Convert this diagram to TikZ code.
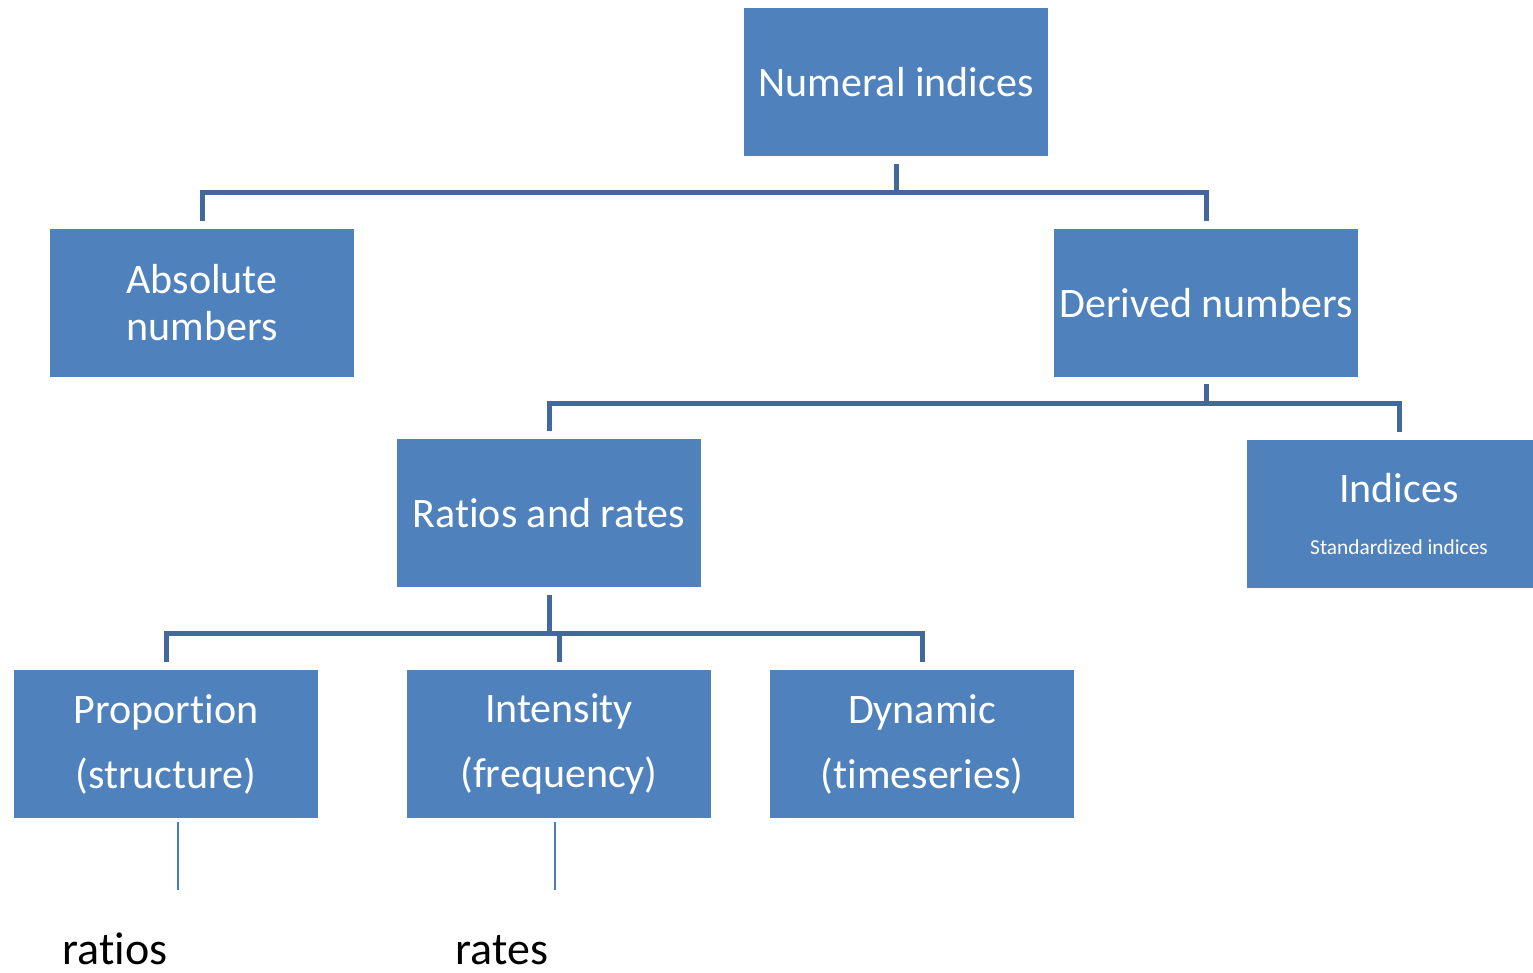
\documentclass[tikz,border=0pt]{standalone}
\usepackage{fontspec}
\setmainfont[Ligatures={NoCommon,NoContextual,NoRare}]{Carlito}
\usetikzlibrary{calc}
\newcommand{\tibrk}{\kern0pt }
\definecolor{boxfill}{HTML}{4F81BD}
\definecolor{connc}{HTML}{41699E}
\definecolor{thinc}{HTML}{4A7EBB}
\begin{document}
\begin{tikzpicture}[x=0.75pt,y=-0.75pt,
  box/.style={rectangle, fill=boxfill, draw=none, minimum width=228pt, minimum height=111pt,
    inner sep=0pt, text=white, align=center, font=\fontsize{31.5}{35.25}\selectfont},
  wide/.style={font=\fontsize{31.5}{48.75}\selectfont},
  conn/.style={draw=connc, line width=3.75pt},
  leader/.style={draw=thinc, line width=1.5pt},
  lab/.style={text=black, inner sep=0pt, font=\fontsize{34.5}{40}\selectfont}]
\useasboundingbox (0,0) rectangle (1533,973);
\clip (0,0) rectangle (1533,973);
% boxes
\node[box] (num) at (896,82) {Numeral indices};
\node[box] (abs) at (202,303) {Absolute\\numbers};
\node[box] (der) at (1206,303) {Derived numbers};
\node[box] (rat) at (549,513) {Rat\tibrk ios and rates};
\node[box] (ind) at (1399,514) {Indices\\[4pt]{\fontsize{16}{19}\selectfont Standardized indices}};
\node[box, wide] (prop) at (166,744) {Proport\tibrk ion\\(structure)};
\node[box, wide] (int) at (559,744) {Intensity\\(frequency)};
\node[box, wide] (dyn) at (922,744) {Dynamic\\(t\tibrk imeseries)};
% labels
\node[lab, anchor=base] (ratios) at (115,964) {rat\tibrk ios};
\node[lab, anchor=base] (rates) at (502,964) {rates};
% connectors
\coordinate (bus1) at (896,193);
\coordinate (bus2) at (1206,403);
\coordinate (bus3) at (549,633);
\draw[conn] ($(num.south)+(0,8)$) -- (num.south |- bus1);
\draw[conn] ($(abs.north)+(0,-8)$) |- (bus1) -| ($(der.north)+(0,-8)$);
\draw[conn] ($(der.south)+(0,7)$) -- (der.south |- bus2);
\draw[conn] ($(rat.north)+(0,-8)$) |- (bus2) -| ($(ind.north)+(0,-8)$);
\draw[conn] ($(rat.south)+(0,8)$) -- (rat.south |- bus3);
\draw[conn] ($(prop.north)+(0,-8)$) |- (bus3) -| ($(dyn.north)+(0,-8)$);
\draw[conn] (int.north |- bus3) -- ($(int.north)+(0,-8)$);
% leaders
\coordinate (t1) at (178,890);
\coordinate (t2) at (555,890);
\draw[leader] ($(prop.south -| t1)+(0,4)$) -- (t1);
\draw[leader] ($(int.south -| t2)+(0,4)$) -- (t2);
\end{tikzpicture}
\end{document}
